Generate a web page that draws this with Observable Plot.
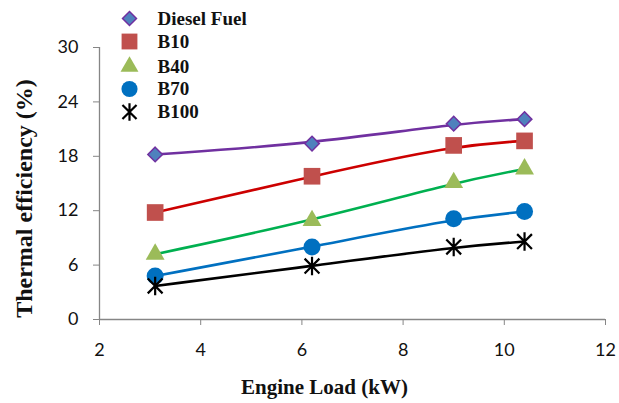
<!DOCTYPE html>
<html>
<head>
<meta charset="utf-8">
<script src="https://cdn.jsdelivr.net/npm/d3@7"></script>
<script src="https://cdn.jsdelivr.net/npm/@observablehq/plot@0.6"></script>
<style>
  html, body { margin: 0; padding: 0; background: #fff; }
  #chart svg { display: block; }
</style>
</head>
<body>
<div id="chart"></div>
<script>
// ---- data ----
const loads = [3.1, 6.2, 9.0, 10.4];
const seriesNames = ["Diesel Fuel", "B10", "B40", "B70", "B100"];
const diesel = [18.2, 19.4, 21.6, 22.1];
const b10 = [11.8, 15.8, 19.2, 19.7];
const b40 = [7.2, 10.9, 15.1, 16.6];
const b70 = [4.8, 8.0, 11.1, 11.9];
const b100 = [3.7, 5.9, 8.0, 8.6];
const xTicks = [2, 4, 6, 8, 10, 12];
const yTicks = [0, 6, 12, 18, 24, 30];
const xTitle = "Engine Load (kW)";
const yTitle = "Thermal efficiency (%)";

// ---- styles ----
const starSymbol = {
  draw(ctx, size) {
    const r = Math.sqrt(size) * 0.55;
    const d = r * 0.8;
    ctx.moveTo(0, -r); ctx.lineTo(0, r);
    ctx.moveTo(-d, -d); ctx.lineTo(d, d);
    ctx.moveTo(-d, d); ctx.lineTo(d, -d);
  }
};
const styles = {
  "Diesel Fuel": {line: "#7030A0", fill: "#4F81BD", stroke: "#7030A0", sw: 1.5, symbol: "diamond2", r: 6.6},
  "B10": {line: "#CC0000", fill: "#C0504D", stroke: "none", sw: 0, symbol: "square", r: 9.4},
  "B40": {line: "#00B050", fill: "#9BBB59", stroke: "none", sw: 0, symbol: "triangle", r: 7.0},
  "B70": {line: "#0070C0", fill: "#0070C0", stroke: "none", sw: 0, symbol: "circle", r: 8.5},
  "B100": {line: "#000000", fill: "none", stroke: "#000000", sw: 2.2, symbol: starSymbol, r: 9.5}
};

const valuesBySeries = [diesel, b10, b40, b70, b100];
const rows = seriesNames.flatMap((s, i) => loads.map((x, j) => ({series: s, load: x, value: valuesBySeries[i][j]})));

const marks = [
  Plot.ruleY([0], {stroke: "#868686", strokeWidth: 1.3}),
  Plot.ruleX([2], {stroke: "#868686", strokeWidth: 1.3}),
  Plot.axisX({ticks: xTicks, tickSize: 6, tickPadding: 18, stroke: "#868686", fill: "#111",
    fontSize: 18, fontFamily: "Lato", label: null}),
  Plot.axisY({ticks: yTicks, tickSize: 6, tickPadding: 15, stroke: "#868686", fill: "#111",
    fontSize: 18, fontFamily: "Lato", label: null})
];

seriesNames.forEach((s, i) => {
  const st = styles[s];
  const data = rows.filter(d => d.series === s);
  marks.push(Plot.line(data, {x: "load", y: "value", stroke: st.line, strokeWidth: 2.6, curve: "basis"}));
});
seriesNames.forEach((s, i) => {
  const st = styles[s];
  const data = rows.filter(d => d.series === s);
  marks.push(Plot.dot(data, {x: "load", y: "value", symbol: () => st.symbol, r: st.r,
    fill: st.fill, stroke: st.stroke, strokeWidth: st.sw}));
});

// legend (inside the frame, top-left)
const legendDy = [-29, -6, 19, 41.5, 64.5];
seriesNames.forEach((s, i) => {
  const st = styles[s];
  marks.push(Plot.dot([s], {frameAnchor: "top-left", dx: 30, dy: legendDy[i], symbol: () => st.symbol,
    r: st.r * 0.95, fill: st.fill, stroke: st.stroke, strokeWidth: st.sw}));
  marks.push(Plot.text([s], {frameAnchor: "top-left", dx: 58, dy: legendDy[i], text: d => d, textAnchor: "start",
    fontFamily: "Liberation Serif", fontWeight: "bold", fontSize: 19, fill: "#111", lineAnchor: "middle"}));
});

// axis titles
marks.push(Plot.text([xTitle], {frameAnchor: "bottom", dx: -28, dy: 68, text: d => d, textAnchor: "middle",
  fontFamily: "Liberation Serif", fontWeight: "bold", fontSize: 21, fill: "#111", lineAnchor: "middle"}));
marks.push(Plot.text([yTitle], {frameAnchor: "left", dx: -75, dy: 15, rotate: -90, text: d => d, textAnchor: "middle",
  fontFamily: "Liberation Serif", fontWeight: "bold", fontSize: 24, fill: "#111", lineAnchor: "middle"}));

const chart = Plot.plot({
  width: 619,
  height: 403,
  marginLeft: 99,
  marginRight: 14,
  marginTop: 47,
  marginBottom: 84,
  x: {domain: [2, 12]},
  y: {domain: [0, 30]},
  style: {background: "#fff", overflow: "visible"},
  marks
});
document.getElementById("chart").appendChild(chart);
</script>
</body>
</html>
